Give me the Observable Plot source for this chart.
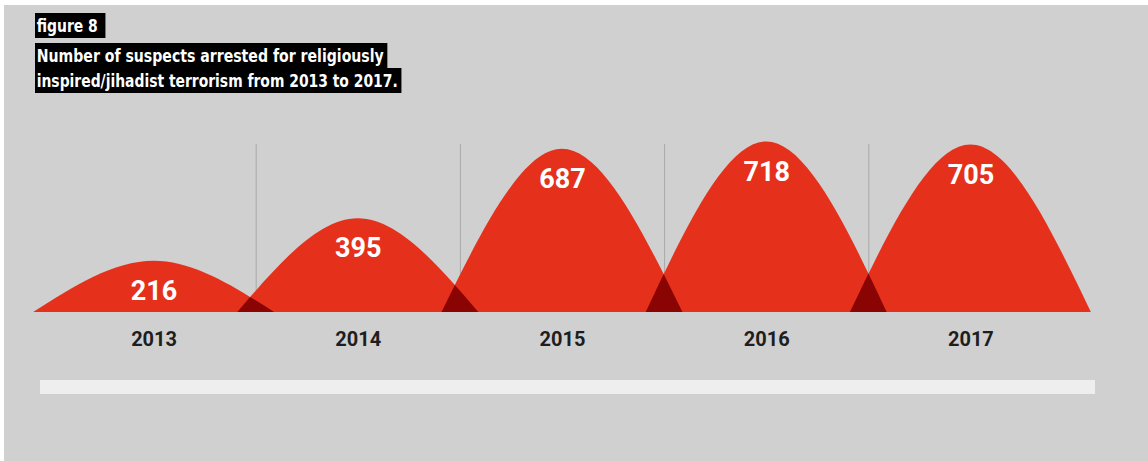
<!DOCTYPE html>
<html>
<head>
<meta charset="utf-8">
<script src="https://cdn.jsdelivr.net/npm/d3@7"></script>
<script src="https://cdn.jsdelivr.net/npm/@observablehq/plot@0.6"></script>
<style>
  html, body { margin: 0; padding: 0; background: #ffffff; width: 1148px; height: 461px; overflow: hidden; }
  #bg { position: absolute; left: 4px; top: 5px; right: 0; bottom: 0; background: #d0d0d0; }
  #title { position: absolute; left: 35px; top: 13px; font-family: "Liberation Sans Narrow", "DejaVu Sans Condensed", "Roboto", sans-serif; font-weight: bold; color: #fff; font-size: 18px; }
  #title .box { display: inline-block; background: #000; height: 25px; line-height: 25px; padding: 0 4px 0 2px; white-space: nowrap; transform-origin: 0 0; }
  #title .fig { padding-right: 9px; margin-bottom: 5px; }
  #chart { position: absolute; left: 0; top: 105px; }
  #track { position: absolute; left: 40px; top: 380px; width: 1055px; height: 14px; background: #eeeeee; }
</style>
</head>
<body>
<div id="bg"></div>
<div id="title">
  <div class="box fig" data-w="61"><span>figure 8</span></div><br>
  <div class="box" data-w="347"><span>Number of suspects arrested for religiously</span></div><br>
  <div class="box" data-w="361"><span>inspired/jihadist terrorism from 2013 to 2017.</span></div>
</div>
<div id="track"></div>
<div id="chart"></div>
<script>
// ---- data ----
const years = [2013, 2014, 2015, 2016, 2017];
const arrests = [216, 395, 687, 718, 705];

// ---- styling constants ----
const RED = "#e5301c";
const DARK = "#8a0404";
const HALF = 0.59; // half-width of each hump, in years

// condense the title text to the reference width
document.querySelectorAll("#title .box").forEach(b => {
  const w = b.querySelector("span").getBoundingClientRect().width;
  b.style.transform = `scaleX(${(+b.dataset.w) / w})`;
});

const data = years.map((y, i) => ({year: y, value: arrests[i]}));
// each hump: base-left, peak, base-right
const humps = data.flatMap(d => [
  {year: d.year, x: d.year - HALF, v: 0},
  {year: d.year, x: d.year, v: d.value},
  {year: d.year, x: d.year + HALF, v: 0}
]);
const separators = years.slice(1).map(y => ({x: y - 0.5}));

const plot = Plot.plot({
  width: 1148,
  height: 356,
  marginTop: 17,
  marginBottom: 149,
  marginLeft: 0,
  marginRight: 0,
  style: {background: "transparent", overflow: "visible"},
  x: {domain: [2013, 2017], range: [153.6, 970.4], axis: null},
  y: {domain: [0, 800], axis: null},
  marks: [
    Plot.ruleX(separators, {x: "x", y1: () => 800, y2: () => 0, insetTop: 22, stroke: "#a8a8a8", strokeWidth: 1}),
    Plot.areaY(humps, {x: "x", y: "v", z: "year", fill: RED, curve: "natural"}),
    Plot.text(data, {x: "year", y: "value", text: d => String(d.value), dy: 30, lineAnchor: "middle",
      fill: "#ffffff", fontSize: 27, fontWeight: "bold", fontFamily: "Roboto, sans-serif"}),
    Plot.text(years, {x: d => d, y: () => 0, text: d => String(d), dy: 27, lineAnchor: "middle",
      fill: "#1e1e1e", fontSize: 20, fontWeight: "bold", fontFamily: "Roboto, sans-serif"})
  ]
});

document.getElementById("chart").appendChild(plot);

// darken overlaps of neighbouring humps
const svg = d3.select(plot);
const paths = svg.selectAll('g[aria-label="area"] path').nodes();
const defs = svg.insert("defs", ":first-child");
paths.forEach((p, i) => {
  if (i === 0) return;
  defs.append("clipPath").attr("id", "hump-clip-" + i)
    .append("path").attr("d", paths[i - 1].getAttribute("d"));
  const c = p.cloneNode();
  c.setAttribute("fill", DARK);
  c.setAttribute("clip-path", `url(#hump-clip-${i})`);
  p.parentNode.appendChild(c);
});
// keep labels above the darkened overlaps
svg.selectAll('g[aria-label="text"]').raise();
</script>
</body>
</html>
